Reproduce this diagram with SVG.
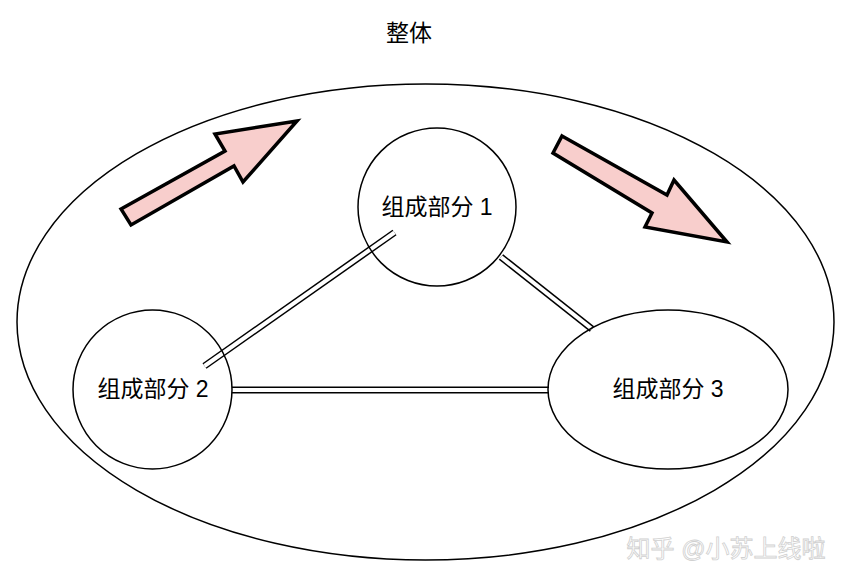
<svg xmlns="http://www.w3.org/2000/svg" width="852" height="584" viewBox="0 0 852 584">
<style>
.shape{fill:none;stroke:#000000;stroke-width:1.5}
.lbl{font-family:"Liberation Sans","Noto Sans CJK SC",sans-serif;font-size:23px;fill:#000000;text-anchor:middle;dominant-baseline:central}
.outer{fill:none;stroke:#000000;stroke-width:7}
.inner{fill:none;stroke:#ffffff;stroke-width:4}
.arrow{fill:#f8cecc;stroke:#000000;stroke-width:3.5;stroke-linejoin:miter}
</style>
<rect width="852" height="584" fill="#ffffff"/>
<g id="whole">
<ellipse class="shape" cx="425.5" cy="322" rx="408.5" ry="238"/>
<text class="lbl" x="409" y="33">整体</text>
</g>
<g id="arrows">
<polygon class="arrow" points="121,209 225,151 215,134 297,121 243,182 234,166 131,225"/>
<polygon class="arrow" points="562,136 667,195 674,180 727,242 645,227 652,213 553,153"/>
</g>
<g id="connectors">
<g>
<line class="outer" x1="204.5" y1="366" x2="394.5" y2="232.5"/>
<line class="inner" x1="204.5" y1="366" x2="394.5" y2="232.5"/>
</g>
<g>
<line class="outer" x1="501" y1="257" x2="592" y2="329"/>
<line class="inner" x1="501" y1="257" x2="592" y2="329"/>
</g>
<g>
<line class="outer" x1="232" y1="390" x2="549" y2="390"/>
<line class="inner" x1="232" y1="390" x2="549" y2="390"/>
</g>
</g>
<g id="part1">
<circle class="shape" cx="437" cy="207" r="79"/>
<text class="lbl" x="437" y="207">组成部分 1</text>
</g>
<g id="part2">
<circle class="shape" cx="152.5" cy="389.5" r="79.5"/>
<text class="lbl" x="153" y="389">组成部分 2</text>
</g>
<g id="part3">
<ellipse class="shape" cx="668" cy="389.5" rx="120" ry="79.5"/>
<text class="lbl" x="668" y="389">组成部分 3</text>
</g>
<text x="726" y="548" style="font-family:'Liberation Sans','Noto Sans CJK SC',sans-serif;font-size:24px;fill:#ffffff;stroke:#d0d0d0;stroke-width:0.8;text-anchor:middle;dominant-baseline:central">知乎 @小苏上线啦</text>
</svg>
